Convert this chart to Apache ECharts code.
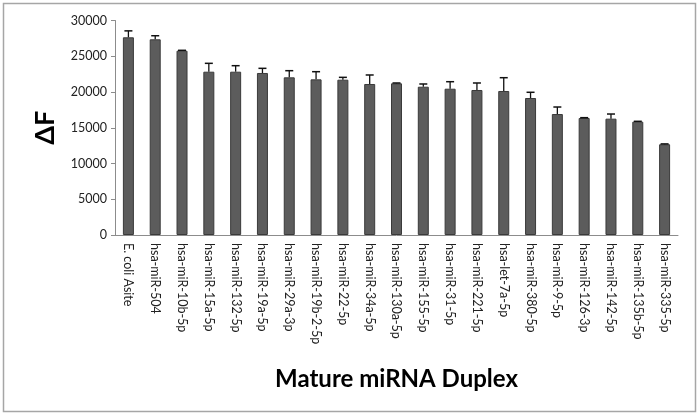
<!DOCTYPE html>
<html><head><meta charset="utf-8">
<script src="https://cdn.jsdelivr.net/npm/echarts@6/dist/echarts.min.js"></script>
<style>html,body{margin:0;padding:0;background:#fff}#c{width:700px;height:417px}</style>
</head><body><div id="c"></div>
<script>
var categories = ["E. coli Asite","hsa-miR-504","hsa-miR-10b-5p","hsa-miR-15a-5p","hsa-miR-132-5p","hsa-miR-19a-5p","hsa-miR-29a-3p","hsa-miR-19b-2-5p","hsa-miR-22-5p","hsa-miR-34a-5p","hsa-miR-130a-5p","hsa-miR-155-5p","hsa-miR-31-5p","hsa-miR-221-5p","hsa-let-7a-5p","hsa-miR-380-5p","hsa-miR-9-5p","hsa-miR-126-3p","hsa-miR-142-5p","hsa-miR-135b-5p","hsa-miR-335-5p"];
var values = [27650,27370,25780,22840,22840,22660,22050,21770,21720,21120,21210,20740,20460,20280,20140,19160,16920,16360,16270,15850,12690];
var errors = [900,500,50,1170,840,650,930,1070,330,1260,50,380,980,980,1860,800,980,50,650,50,50];
var yTicks = [0,5000,10000,15000,20000,25000,30000];

var chart = echarts.init(document.getElementById('c'));
var errData = categories.map(function(c,i){return [i, values[i], values[i]+errors[i]];});
chart.setOption({
  animation:false,
  backgroundColor:'#fff',
  graphic:[{type:'rect',shape:{x:3.5,y:3.5,width:692,height:408},style:{fill:'none',stroke:'#a6a6a6',lineWidth:1.5}}],
  grid:{left:115,right:22,top:20.5,bottom:182},
  xAxis:{type:'category',data:categories,
    axisLine:{lineStyle:{color:'#8c8c8c'}},axisTick:{show:false},
    axisLabel:{interval:0,rotate:-90,fontFamily:'Lato',fontSize:12.5,color:'#222',margin:8},
    name:'Mature miRNA Duplex',nameLocation:'middle',nameGap:132,
    nameTextStyle:{fontFamily:'Lato',fontWeight:'bold',fontSize:24,color:'#000'}},
  yAxis:{type:'value',min:yTicks[0],max:yTicks[yTicks.length-1],interval:5000,
    axisLine:{show:true,lineStyle:{color:'#8c8c8c'}},axisTick:{show:true,length:4,lineStyle:{color:'#8c8c8c'}},
    splitLine:{show:false},
    axisLabel:{fontFamily:'Lato',fontSize:12.5,color:'#222',margin:8,formatter:function(v){return String(v);}},
    name:'ΔF',nameLocation:'middle',nameGap:56,nameRotate:90,
    nameTextStyle:{fontFamily:'Lato',fontWeight:'bold',fontSize:27,color:'#000'}},
  series:[
    {type:'bar',data:values,barWidth:11,itemStyle:{color:'#5c5c5c',borderColor:'#3a3a3a',borderWidth:1}},
    {type:'custom',data:errData,z:5,renderItem:function(params,api){
      var x=api.value(0);var p0=api.coord([x,api.value(1)]);var p1=api.coord([x,api.value(2)]);
      var hw=4;
      return {type:'group',children:[
        {type:'line',shape:{x1:p0[0],y1:p0[1],x2:p1[0],y2:p1[1]},style:{stroke:'#111',lineWidth:1.3}},
        {type:'line',shape:{x1:p1[0]-hw,y1:p1[1],x2:p1[0]+hw,y2:p1[1]},style:{stroke:'#111',lineWidth:1.5}}
      ]};
    }}
  ]
});
</script></body></html>
